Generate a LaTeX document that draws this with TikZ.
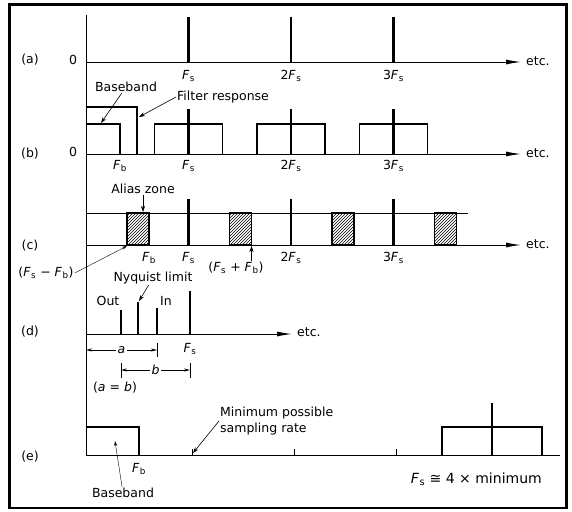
\documentclass[tikz,border=0pt]{standalone}
\usepackage{fontspec}
\setmainfont{DejaVu Sans}
\usetikzlibrary{arrows.meta,patterns}
\newcommand{\Fs}{\textit{F}\kern0.6pt\textsubscript{s}}
\newcommand{\Fb}{\textit{F}\kern0.6pt\textsubscript{b}}

\begin{document}
\begin{tikzpicture}[x=1pt, y=-1pt,
  font=\fontsize{12.5}{15.5}\selectfont,
  axis/.style={line width=1pt, -{Latex[length=15pt,width=5pt]}},
  base/.style={line width=1pt},
  spike/.style={line width=2.2pt},
  band/.style={line width=1.8pt},
  lead/.style={line width=0.6pt, -{Stealth[length=6pt,width=4pt]}},
  dim/.style={line width=0.6pt, {Stealth[length=6pt,width=3pt]}-{Stealth[length=6pt,width=3pt]}},
  tag/.style={inner sep=1pt}]
  \useasboundingbox (0,0) rectangle (572,511);

  % Frame
  \draw[line width=2.5pt] (9.5,4.5) rectangle (566.5,508);
  % Zero-frequency line shared by all rows
  \draw[line width=0.8pt] (86,15) -- (86,455);

  % (a) Sampling impulses
  \node[tag] (rowa) at (30,60) {(a)};
  \node[tag] (zeroa) at (73,60) {0};
  \draw[axis] (86,62) -- (521,62);
  \node[tag, anchor=west] (etca) at (525,61) {etc.};
  \foreach \x/\m [count=\i] in {188.5/,291/2,393.5/3} {
    \draw[spike] (\x,17) -- (\x,62);
    \node[tag] (fsa\i) at (\x,76) {\m\Fs};
  }

  % (b) Baseband, filter response and images
  \node[tag] (rowb) at (30,154) {(b)};
  \node[tag] (zerob) at (73,152) {0};
  \draw[axis] (86,154) -- (521,154);
  \node[tag, anchor=west] (etcb) at (525,153) {etc.};
  \draw[band] (86,107) -- (137,107) -- (137,154);
  \draw[band] (86,124) -- (120,124) -- (120,154);
  \foreach \x/\m [count=\i] in {188.5/,291/2,393.5/3} {
    \draw[band] (\x-34,154) -- (\x-34,124) -- (\x+34,124) -- (\x+34,154);
    \draw[spike] (\x,109) -- (\x,154);
    \node[tag] (fsb\i) at (\x,166) {\m\Fs};
  }
  \node[tag] (fbb) at (120,166) {\Fb};
  \node[tag] (bblbl) at (126,87) {Baseband};
  \coordinate (bbtop) at (101,123);
  \draw[lead] (bblbl) -- (bbtop);
  \node[tag, anchor=west] (frlbl) at (176,97) {Filter response};
  \coordinate (fredge) at (139,117);
  \draw[lead] (frlbl.west) -- (fredge);

  % (c) Alias zones
  \node[tag] (rowc) at (30,246) {(c)};
  \draw[base] (86,213) -- (468,213);
  \draw[axis] (86,245) -- (521,245);
  \node[tag, anchor=west] (etcc) at (525,244) {etc.};
  \foreach \x in {86,188.5,291,393.5}
    \draw[band, pattern=north east lines] (\x+41,213) rectangle (\x+63,245);
  \foreach \x/\m [count=\i] in {188.5/,291/2,393.5/3} {
    \draw[spike] (\x,199) -- (\x,245);
    \node[tag] (fsc\i) at (\x,258) {\m\Fs};
  }
  \node[tag] (fbc) at (149,258) {\Fb};
  \node[tag] (aliaslbl) at (143,189) {Alias zone};
  \coordinate (aliastop) at (143,212);
  \draw[lead] (aliaslbl) -- (aliastop);
  \node[tag] (difflbl) at (46,273) {(\Fs\ − \Fb)};
  \coordinate (diffpt) at (127,246);
  \draw[line width=0.4pt, -{Stealth[length=5pt,width=3pt]}] (difflbl.east) -- (diffpt);
  \node[tag] (sumlbl) at (236,268) {(\Fs\ + \Fb)};
  \coordinate (sumpt) at (251.5,246);
  \draw[lead] (sumlbl.north -| sumpt) -- (sumpt);

  % (d) Nyquist limit
  \node[tag] (rowd) at (30,332) {(d)};
  \draw[axis] (86,334) -- (292,334);
  \node[tag, anchor=west] (etcd) at (296,332) {etc.};
  \draw[spike] (121,310) -- (121,334);
  \draw[spike] (138,302) -- (138,334);
  \draw[spike] (157,308) -- (157,334);
  \draw[spike] (190,291) -- (190,334);
  \node[tag] (outlbl) at (108,301) {Out};
  \node[tag] (inlbl) at (166,301) {In};
  \node[tag] (nyqlbl) at (153,278) {Nyquist limit};
  \coordinate (nyqtop) at (139,301);
  \draw[lead] (nyqlbl) -- (nyqtop);
  \node[tag] (fsd) at (190,349) {\Fs};
  \draw[line width=0.6pt] (157,343) -- (157,357);
  \draw[line width=0.6pt] (121,363) -- (121,378);
  \draw[line width=0.6pt] (190,363) -- (190,378);
  \draw[dim] (86,350) -- node[fill=white, inner sep=2pt] (albl) {\textit{a}} (157,350);
  \draw[dim] (121,370) -- node[fill=white, inner sep=2pt] (blbl) {\textit{b}} (190,370);
  \node[tag] (eqlbl) at (115,388) {(\textit{a} = \textit{b})};

  % (e) Minimum sampling rate
  \node[tag] (rowe) at (30,457) {(e)};
  \draw[base] (86,455) -- (560,455);
  \draw[band] (86,427) -- (139,427) -- (139,455);
  \foreach \x in {192,294,396}
    \draw[line width=0.6pt] (\x,449) -- (\x,455);
  \draw[band] (442,455) -- (442,427) -- (542,427) -- (542,455);
  \draw[spike] (492,403) -- (492,455);
  \node[tag] (fbe) at (139,469) {\Fb};
  \node[tag] (bblbl2) at (123,493) {Baseband};
  \coordinate (bbin) at (115,441);
  \draw[line width=0.4pt, -{Stealth[length=5pt,width=3pt]}] (bblbl2) -- (bbin);
  \node[tag, anchor=west, align=left] (minlbl) at (219,421) {Minimum possible\\sampling rate};
  \coordinate (mintick) at (193,453);
  \draw[lead] (minlbl.west) -- (mintick);
  \node[tag, anchor=east, font=\fontsize{14}{16}\selectfont] (notelbl) at (543,479) {\Fs\ ≅ 4 × minimum};
\end{tikzpicture}
\end{document}
